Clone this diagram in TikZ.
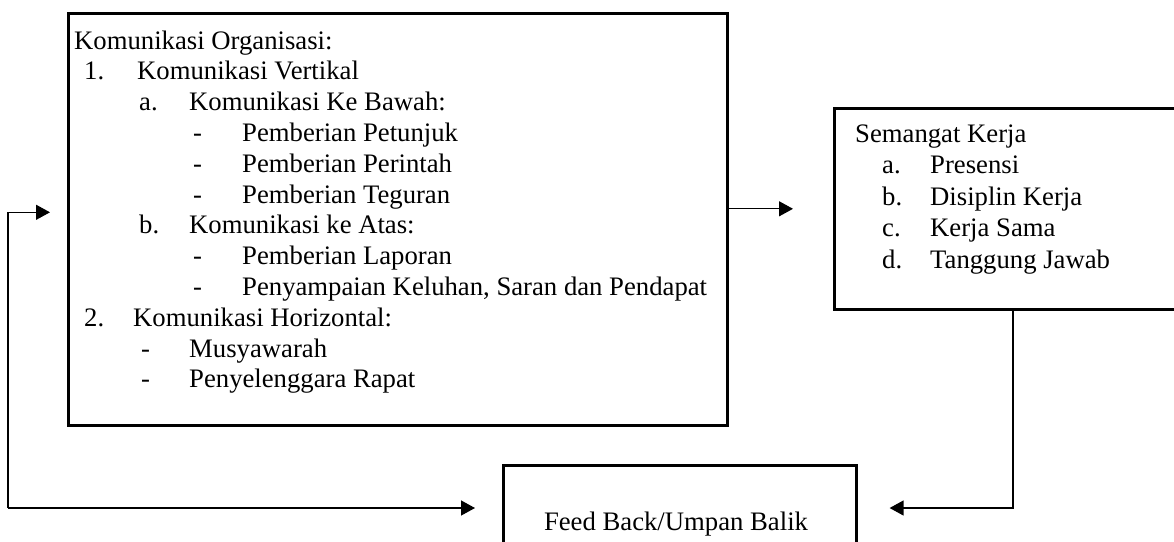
\documentclass[tikz,border=0pt]{standalone}
\usepackage{fontspec}
\setmainfont{Liberation Serif}
\usetikzlibrary{arrows.meta,calc}
\begin{document}
\begin{tikzpicture}[x=1pt,y=-1pt,
  box/.style={draw,line width=2.6pt,rectangle,inner sep=0pt,anchor=north west},
  txt/.style={anchor=base west,inner sep=0pt,font=\fontsize{26.7}{30.8}\selectfont},
  ctxt/.style={anchor=base,inner sep=0pt,font=\fontsize{26.7}{30.8}\selectfont},
  conn/.style={line width=1.3pt,-{Triangle[length=14pt,width=15pt]}}]
\useasboundingbox (0,0) rectangle (1174,541);
% boxes
\node[box,minimum width=659pt,minimum height=412pt] (org) at (67,12) {};
\node[box,minimum width=360pt,minimum height=201pt] (sk) at (833,107) {};
\node[box,minimum width=353pt,minimum height=110pt] (fb) at (502,464) {};
% box 1 text
\node[txt] (o0) at (74,49) {Komunikasi Organisasi:};
\node[txt] (o1l) at (84,79.8) {1.};
\node[txt] (o1) at (137,79.8) {Komunikasi Vertikal};
\node[txt] (o2l) at (139,110.6) {a.};
\node[txt] (o2) at (189,110.6) {Komunikasi Ke Bawah:};
\node[txt] (o3l) at (193,141.4) {-};
\node[txt] (o3) at (242,141.4) {Pemberian Petunjuk};
\node[txt] (o4l) at (193,172.2) {-};
\node[txt] (o4) at (242,172.2) {Pemberian Perintah};
\node[txt] (o5l) at (193,203) {-};
\node[txt] (o5) at (242,203) {Pemberian Teguran};
\node[txt] (o6l) at (139,233.8) {b.};
\node[txt] (o6) at (189,233.8) {Komunikasi ke Atas:};
\node[txt] (o7l) at (193,264.6) {-};
\node[txt] (o7) at (242,264.6) {Pemberian Laporan};
\node[txt] (o8l) at (193,295.4) {-};
\node[txt] (o8) at (242,295.4) {Penyampaian Keluhan, Saran dan Pendapat};
\node[txt] (o9l) at (84,326.2) {2.};
\node[txt] (o9) at (133,326.2) {Komunikasi Horizontal:};
\node[txt] (o10l) at (141,357) {-};
\node[txt] (o10) at (189,357) {Musyawarah};
\node[txt] (o11l) at (141,387.8) {-};
\node[txt] (o11) at (189,387.8) {Penyelenggara Rapat};
% box 2 text
\node[txt] (s0) at (855,142) {Semangat Kerja};
\node[txt] (s1l) at (882,173.5) {a.};
\node[txt] (s1) at (930,173.5) {Presensi};
\node[txt] (s2l) at (882,205) {b.};
\node[txt] (s2) at (930,205) {Disiplin Kerja};
\node[txt] (s3l) at (882,236.5) {c.};
\node[txt] (s3) at (930,236.5) {Kerja Sama};
\node[txt] (s4l) at (882,268) {d.};
\node[txt] (s4) at (930,268) {Tanggung Jawab};
% box 3 text
\node[ctxt] (f0) at (676,530) {Feed Back/Umpan Balik};
% connectors
\coordinate (c1) at (8,508);
\coordinate (c2) at (1013,508);
\draw[conn] (c1) |- ([xshift=-17pt,yshift=7pt]org.west);
\draw[conn] (org.east |- sk.west) -- ([xshift=-40pt]sk.west);
\draw[conn] (c1) -- ([xshift=-27pt]fb.west |- c1);
\draw[conn] (sk.south -| c2) -- (c2) -- ([xshift=32pt]fb.east |- c2);
\end{tikzpicture}
\end{document}
